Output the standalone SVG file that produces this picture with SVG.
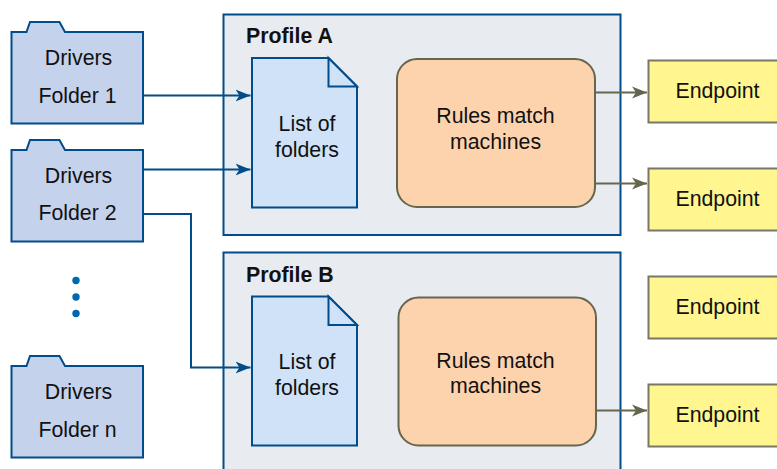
<svg xmlns="http://www.w3.org/2000/svg" width="777" height="469" viewBox="0 0 777 469">
<defs>
<style>
text{font-family:"Liberation Sans",Arial,sans-serif;font-size:21.3px;fill:#111;text-anchor:middle}
.b{font-weight:bold;font-size:21.3px;text-anchor:start}
.folder{fill:#c5d2ec;stroke:#004c8c;stroke-width:2}
.panel{fill:#e8ecf0;stroke:#004c8c;stroke-width:2}
.doc{fill:#cfe2f7;stroke:#004c8c;stroke-width:2}
.rules{fill:#fdd3ae;stroke:#66664f;stroke-width:2}
.ep{fill:#fff68f;stroke:#77776a;stroke-width:2}
.cb{fill:none;stroke:#004c8c;stroke-width:2}
.cg{fill:none;stroke:#66664f;stroke-width:2}
</style>
<marker id="ab" markerUnits="userSpaceOnUse" markerWidth="16" markerHeight="14" refX="15" refY="7" orient="auto"><path d="M0 1L15 7L0 13L4 7Z" fill="#004c8c"/></marker>
<marker id="ag" markerUnits="userSpaceOnUse" markerWidth="16" markerHeight="14" refX="15" refY="7" orient="auto"><path d="M0 1L15 7L0 13L4 7Z" fill="#66664f"/></marker>
</defs>
<g id="profile-a"><rect class="panel" x="223.500" y="14.500" width="397" height="220.500"/><text class="b" x="246" y="43">Profile A</text></g>
<g id="profile-b"><rect class="panel" x="223.500" y="252.500" width="397" height="222"/><text class="b" x="246" y="282">Profile B</text></g>
<g id="folder-1"><path class="folder" d="M11.500 32H26.500L30 22H59.500L65 32H143V123.500H11.500Z"/><text x="78.500" y="65">Drivers</text><text x="77.500" y="103">Folder 1</text></g>
<g id="folder-2"><path class="folder" d="M11.500 150H26.500L30 140H59.500L65 150H143V241.500H11.500Z"/><text x="78.500" y="183">Drivers</text><text x="77.500" y="220">Folder 2</text></g>
<g id="folder-n"><path class="folder" d="M11.500 366H26.500L30 356H59.500L65 366H143V457.500H11.500Z"/><text x="78.500" y="399">Drivers</text><text x="77.500" y="437">Folder n</text></g>
<g id="ellipsis" fill="#0067b1"><circle cx="76" cy="280.500" r="3.700"/><circle cx="76" cy="297" r="3.700"/><circle cx="76" cy="313.500" r="3.700"/></g>
<g id="list-a"><path class="doc" d="M252 58H328.500L357 86.500V207.500H252Z"/><path class="doc" d="M328.500 58V86.500H357Z"/><text x="307" y="131">List of</text><text x="307" y="157">folders</text></g>
<g id="list-b"><path class="doc" d="M252 296.500H328.500L357 325V445.500H252Z"/><path class="doc" d="M328.500 296.500V325H357Z"/><text x="307" y="369">List of</text><text x="307" y="395">folders</text></g>
<g id="rules-a"><rect class="rules" x="397" y="59" width="198" height="148" rx="20"/><text x="495.500" y="123">Rules match</text><text x="495.500" y="149">machines</text></g>
<g id="rules-b"><rect class="rules" x="398.500" y="297.500" width="197.500" height="148" rx="20"/><text x="495.500" y="368">Rules match</text><text x="495.500" y="393">machines</text></g>
<g id="endpoint-1"><rect class="ep" x="648.500" y="60.500" width="140" height="62"/><text x="717.500" y="98">Endpoint</text></g>
<g id="endpoint-2"><rect class="ep" x="648.500" y="168.500" width="140" height="62"/><text x="717.500" y="206">Endpoint</text></g>
<g id="endpoint-3"><rect class="ep" x="648.500" y="276.500" width="140" height="62"/><text x="717.500" y="314">Endpoint</text></g>
<g id="endpoint-4"><rect class="ep" x="648.500" y="384.500" width="140" height="62"/><text x="717.500" y="422">Endpoint</text></g>
<g id="connectors">
<path class="cb" marker-end="url(#ab)" d="M143 95.500H250.500"/>
<path class="cb" marker-end="url(#ab)" d="M143 169.500H250.500"/>
<path class="cb" marker-end="url(#ab)" d="M143 214H191V367.500H250.500"/>
<path class="cg" marker-end="url(#ag)" d="M595 92.500H647"/>
<path class="cg" marker-end="url(#ag)" d="M595 183.500H647"/>
<path class="cg" marker-end="url(#ag)" d="M596 410.500H647"/>
</g>
</svg>
